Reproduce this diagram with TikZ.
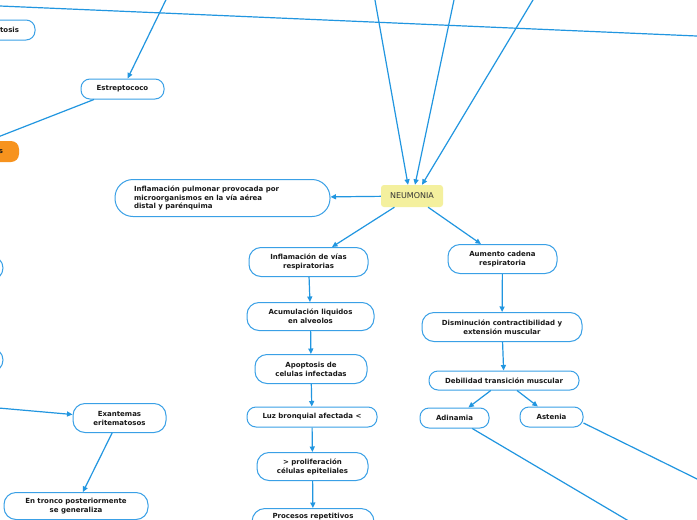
\documentclass[tikz,border=0pt]{standalone}
\usepackage{fontspec}
\setmainfont{DejaVu Sans}
\usetikzlibrary{arrows.meta}
\definecolor{lineblue}{RGB}{33,150,224}
\definecolor{boxblue}{RGB}{58,160,230}
\definecolor{neuyellow}{RGB}{244,240,158}
\definecolor{orng}{RGB}{247,147,30}
\definecolor{txt}{RGB}{25,25,25}
\begin{document}
\begin{tikzpicture}[x=1pt,y=-1pt,
  box/.style={draw=boxblue, line width=1pt, fill=white, rounded corners=12pt,
    align=center, font=\fontsize{7}{9}\selectfont\bfseries, text=txt, inner sep=0pt},
  conn/.style={draw=lineblue, line width=1.2pt},
  arr/.style={conn, -{Triangle[length=5.5pt,width=5pt]}},
]
\useasboundingbox (0,0) rectangle (697,520);
\fill[white] (0,0) rectangle (697,520);

% nodes
\node[box, minimum width=95pt, minimum height=20pt, rounded corners=9pt,
  text width=63pt, inner xsep=16pt, align=right] (tos) at (-12.5,30) {tosis};
\node[box, minimum width=83pt, minimum height=20pt, rounded corners=9pt] (estr) at (122.5,89) {Estreptococo};
\node[box, draw=none, fill=orng, minimum width=79pt, minimum height=21pt, rounded corners=8pt,
  text width=47pt, inner xsep=16pt, align=right] (org) at (-20.5,151.5) {s};
\node[draw=none, fill=neuyellow, rounded corners=3pt, minimum width=62pt, minimum height=22pt,
  inner sep=0pt, font=\fontsize{8}{9}\selectfont, text={rgb,255:red,50;green,50;blue,50}] (neu) at (412,196) {NEUMONIA};
\node[box, minimum width=215pt, minimum height=37pt, rounded corners=18pt,
  text width=177pt, inner xsep=19pt, align=left, font=\fontsize{7}{8.3}\selectfont\bfseries] (pulm) at (222.5,198)
  {Inflamación pulmonar provocada por\\microorganismos en la vía aérea\\distal y parénquima};
\node[box, minimum width=119pt, minimum height=29pt] (vias) at (308.5,262) {Inflamación de vías\\respiratorias};
\node[box, minimum width=109pt, minimum height=29pt] (aum) at (502.5,259) {Aumento cadena\\respiratoria};
\node[box, minimum width=127pt, minimum height=28pt] (acum) at (310.5,316.5) {Acumulación liquidos\\en alveolos};
\node[box, minimum width=112pt, minimum height=29pt] (apop) at (311,369) {Apoptosis de\\celulas infectadas};
\node[box, minimum width=130pt, minimum height=20pt, rounded corners=9pt] (luz) at (312,417) {Luz bronquial afectada <};
\node[box, minimum width=111pt, minimum height=28pt] (prol) at (312.5,466.5) {> proliferación\\células epiteliales};
\node[box, anchor=north, minimum width=122pt, text height=10pt, text depth=22pt, rounded corners=13pt] (proc) at (313,508) {Procesos repetitivos};
\node[box, minimum width=160pt, minimum height=29pt] (dism) at (502,327) {Disminución contractibilidad y\\extensión muscular};
\node[box, minimum width=150pt, minimum height=19pt, rounded corners=9pt] (deb) at (504,380.5) {Debilidad transición muscular};
\node[box, minimum width=69pt, minimum height=20pt, rounded corners=9pt] (adin) at (454.5,418) {Adinamia};
\node[box, minimum width=63pt, minimum height=20pt, rounded corners=9pt] (ast) at (551.5,417) {Astenia};
\node[box, minimum width=93pt, minimum height=29pt] (exan) at (119.5,418) {Exantemas\\eritematosos};
\node[box, minimum width=144pt, minimum height=27pt] (tron) at (76,506) {En tronco posteriormente\\se generaliza};
\node[box, minimum width=86pt, minimum height=24pt] (lp1) at (-40,268) {};
\node[box, minimum width=86pt, minimum height=24pt] (lp2) at (-40,360) {};

% free ends
\coordinate (t0a) at (-20,5.14);
\coordinate (t0b) at (720,37);
\coordinate (tE) at (175.6,-20);
\coordinate (eL) at (-50,155.7);
\coordinate (n1) at (371.4,-20);
\coordinate (n2) at (458.2,-20);
\coordinate (n3) at (545,-20);
\coordinate (adE) at (660,539.5);
\coordinate (asE) at (720,490.3);
\coordinate (exL) at (-30,405.5);

% connectors
\draw[conn] (t0a) -- (t0b);
\draw[arr] (tE) -- (estr);
\draw[conn] ([xshift=-28.5pt]estr.south) -- (eL);
\draw[arr] (n1) -- ([xshift=-4pt]neu.north);
\draw[arr] (n2) -- ([xshift=3pt]neu.north);
\draw[arr] (n3) -- ([xshift=10pt]neu.north);
\draw[arr] (neu) -- (pulm);
\draw[arr] (neu) -- (vias);
\draw[arr] (neu) -- (aum);
\draw[arr] (vias) -- (acum);
\draw[arr] (acum) -- (apop);
\draw[arr] (apop) -- (luz);
\draw[arr] (luz) -- (prol);
\draw[arr] (prol) -- (proc);
\draw[arr] (aum) -- (dism);
\draw[arr] (dism) -- (deb);
\draw[arr] (deb) -- (adin);
\draw[arr] (deb) -- (ast);
\draw[conn] (adin) -- (adE);
\draw[conn] ([yshift=-6pt]ast.east) -- (asE);
\draw[arr] (exL) -- ([yshift=3.5pt]exan.west);
\draw[arr] (exan) -- (tron);
\end{tikzpicture}
\end{document}
